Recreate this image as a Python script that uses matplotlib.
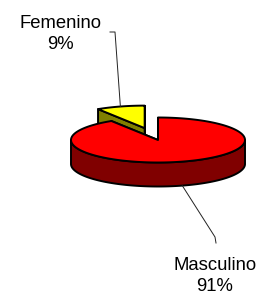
import numpy as np
import matplotlib.pyplot as plt
from matplotlib.patches import Polygon

plt.rcParams['font.family'] = ['Liberation Sans', 'DejaVu Sans']

categories = ['Femenino', 'Masculino']
shares = [9, 91]
top_colors = ['#FFFF00', '#FF0000']
side_colors = ['#808000', '#800000']
explode = [0.55, 0.0]

# layout (pixel units, y pointing down)
cx, cy = 158, 140      # pie centre
R, r = 87, 22.5        # ellipse half axes
depth = 24
start = 90.0

label_xy = [(60.5, 34), (215, 276)]
leader_tail = [(110, 32), (216, 243)]
leader_elbow = [(115, 32), (215, 237)]

fig = plt.figure(figsize=(2.66, 2.98), dpi=100)
ax = fig.add_axes([0, 0, 1, 1])
ax.set_xlim(0, 266)
ax.set_ylim(298, 0)
ax.axis('off')


def rim(x0, y0, ang, dz=0.0):
    a = np.radians(ang)
    return np.column_stack([x0 + R * np.cos(a), y0 - r * np.sin(a) + dz])


def poly(pts, fc, z):
    ax.add_patch(Polygon(pts, closed=True, fc=fc, ec='black', lw=1.4,
                         joinstyle='round', zorder=z))


total = sum(shares)
a0 = start
z = 1
for i, s in enumerate(shares):
    a1 = a0 + 360.0 * s / total
    mid = np.radians((a0 + a1) / 2)
    x0 = cx + explode[i] * R * np.cos(mid)
    y0 = cy - explode[i] * r * np.sin(mid)
    c_top = np.array([[x0, y0]])
    c_bot = np.array([[x0, y0 + depth]])

    # radial faces
    for a in (a0, a1):
        p = np.vstack([c_top, rim(x0, y0, [a]), rim(x0, y0, [a], depth), c_bot])
        poly(p, side_colors[i], z)
    z += 1

    # outer curved side, front part only
    lo, hi = max(a0, 180), min(a1, 360)
    if hi > lo:
        arc = np.linspace(lo, hi, 120)
        p = np.vstack([rim(x0, y0, arc), rim(x0, y0, arc[::-1], depth)])
        poly(p, side_colors[i], z)
    z += 1

    # top surface
    arc = np.linspace(a0, a1, 240)
    poly(np.vstack([c_top, rim(x0, y0, arc)]), top_colors[i], z)
    z += 1

    # leader line to the slice edge
    if np.sin(mid) > 0:
        edge = rim(x0, y0, [np.degrees(mid)])[0]
    else:
        edge = rim(x0, y0, [np.degrees(mid)], depth)[0]
    lx = [leader_tail[i][0], leader_elbow[i][0], edge[0]]
    ly = [leader_tail[i][1], leader_elbow[i][1], edge[1]]
    ax.plot(lx, ly, color='#222222', lw=0.7, zorder=20)

    ax.text(label_xy[i][0], label_xy[i][1], f'{categories[i]}\n{s}%',
            ha='center', va='center', fontsize=13.3, linespacing=1.3,
            color='black', zorder=21)
    a0 = a1

fig.savefig('out.png', dpi=100)
